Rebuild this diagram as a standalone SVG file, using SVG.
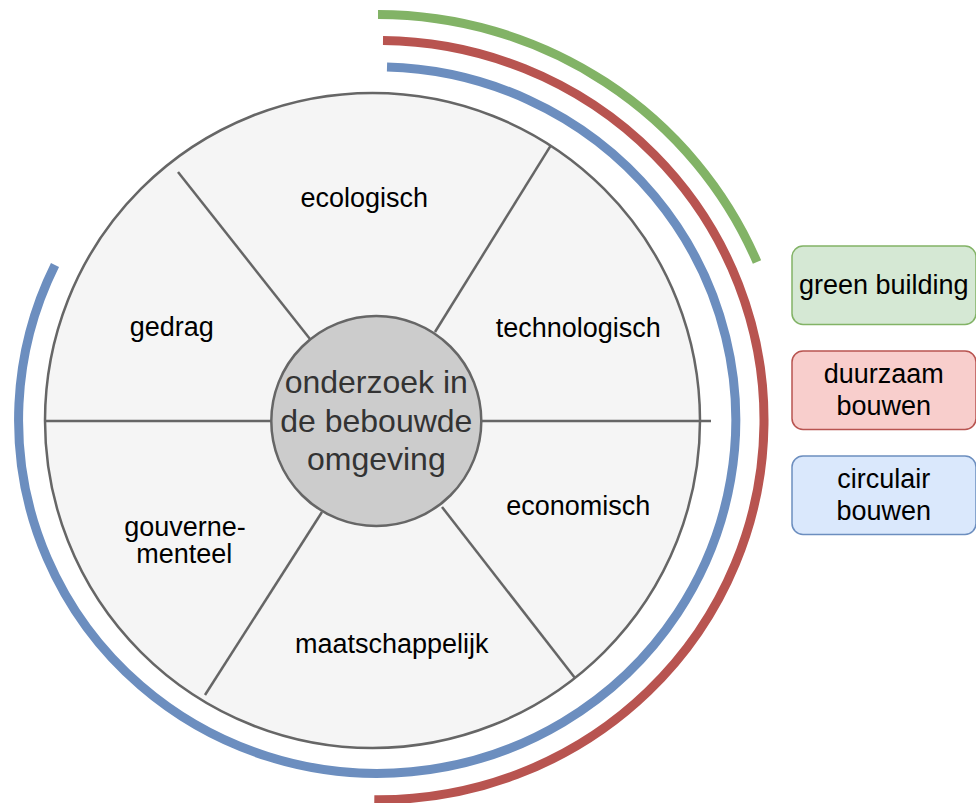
<svg xmlns="http://www.w3.org/2000/svg" width="976" height="803" viewBox="0 0 976 803">
<style>
.spoke{stroke:#666666;stroke-width:2.5;fill:none}
.arc{fill:none;stroke-width:9;stroke-linecap:butt}
.lbl{font-family:"Liberation Sans",Arial,sans-serif;font-size:27px;fill:#000000;text-anchor:middle}
.ctr{font-family:"Liberation Sans",Arial,sans-serif;font-size:32px;fill:#333333;text-anchor:middle}
</style>
<rect width="976" height="803" fill="#ffffff"/>
<g id="arcs">
<path class="arc" stroke="#82b366" d="M 378 14.5 A 412.1 405.75 0 0 1 757 262"/>
<path class="arc" stroke="#b85450" d="M 383 40.5 A 385.2 379.6 0 1 1 374.3 799.7"/>
<path class="arc" stroke="#6c8ebf" d="M 387 67 A 358.6 353.25 0 1 1 55 265"/>
</g>
<g id="wheel">
<circle cx="372.5" cy="420.5" r="327.5" fill="#f5f5f5" stroke="#666666" stroke-width="2.5"/>
</g>
<g id="connectors">
<line class="spoke" x1="45" y1="421" x2="711" y2="421"/>
<line class="spoke" x1="178" y1="172" x2="310" y2="339"/>
<line class="spoke" x1="550.7" y1="145.7" x2="435" y2="332"/>
<line class="spoke" x1="205" y1="695" x2="322" y2="512"/>
<line class="spoke" x1="575" y1="678" x2="442" y2="507"/>
</g>
<g id="center">
<circle cx="376.3" cy="421" r="105" fill="#cccccc" stroke="#666666" stroke-width="2.5"/>
<text class="ctr" x="376.3" y="393">onderzoek in</text>
<text class="ctr" x="376.3" y="431.7">de bebouwde</text>
<text class="ctr" x="376.3" y="470">omgeving</text>
</g>
<g id="ecologisch"><text class="lbl" x="364.2" y="206.7">ecologisch</text></g>
<g id="technologisch"><text class="lbl" x="578.3" y="336.7">technologisch</text></g>
<g id="gedrag"><text class="lbl" x="171.7" y="336">gedrag</text></g>
<g id="gouvernementeel"><text class="lbl" x="185" y="536">gouverne-</text><text class="lbl" x="184.2" y="563.3">menteel</text></g>
<g id="economisch"><text class="lbl" x="578.3" y="515">economisch</text></g>
<g id="maatschappelijk"><text class="lbl" x="391.7" y="653.3">maatschappelijk</text></g>
<g id="green-building">
<rect x="792" y="246" width="184" height="78.5" rx="11" fill="#d5e8d4" stroke="#82b366" stroke-width="1.5"/>
<text class="lbl" x="883.8" y="294.3">green building</text>
</g>
<g id="duurzaam-bouwen">
<rect x="792" y="351" width="184" height="78.5" rx="11" fill="#f8cecc" stroke="#b85450" stroke-width="1.5"/>
<text class="lbl" x="883.8" y="383.3">duurzaam</text>
<text class="lbl" x="883.8" y="415">bouwen</text>
</g>
<g id="circulair-bouwen">
<rect x="792" y="456" width="184" height="78.5" rx="11" fill="#dae8fc" stroke="#6c8ebf" stroke-width="1.5"/>
<text class="lbl" x="883.8" y="488.3">circulair</text>
<text class="lbl" x="883.8" y="520">bouwen</text>
</g>
</svg>
